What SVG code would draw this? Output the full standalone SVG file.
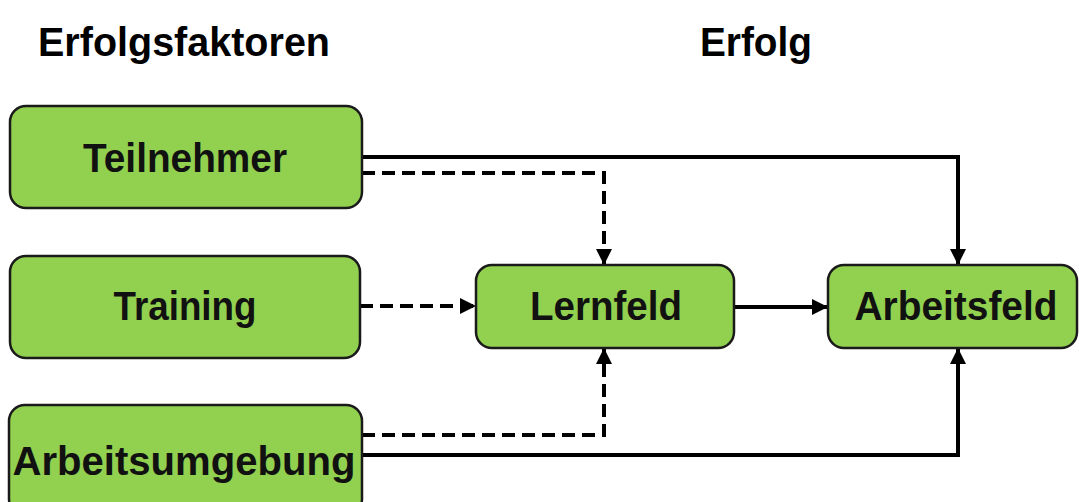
<svg xmlns="http://www.w3.org/2000/svg" width="1079" height="502" viewBox="0 0 1079 502">
  <style>
    .box { fill: #92D050; stroke: #1a1a1a; stroke-width: 2.5; }
    .lbl { font-family: "Liberation Sans", Arial, sans-serif; font-weight: bold; font-size: 40px; fill: #111; text-anchor: middle; }
    .title { font-family: "Liberation Sans", Arial, sans-serif; font-weight: bold; font-size: 40px; fill: #000; }
    .solid { fill: none; stroke: #000; stroke-width: 4; stroke-linejoin: miter; }
    .dash { fill: none; stroke: #000; stroke-width: 4; stroke-dasharray: 13 7; stroke-linejoin: miter; }
  </style>
  <defs>
    <marker id="arrow" viewBox="0 0 16 16" refX="16" refY="8" markerWidth="16" markerHeight="16" markerUnits="userSpaceOnUse" orient="auto">
      <path d="M0,0 L16,8 L0,16 z" fill="#000"/>
    </marker>
  </defs>
  <rect width="1079" height="502" fill="#fff"/>

  <g id="titles">
    <text class="title" x="38" y="56" textLength="292" lengthAdjust="spacingAndGlyphs">Erfolgsfaktoren</text>
    <text class="title" x="700" y="56" textLength="112" lengthAdjust="spacingAndGlyphs">Erfolg</text>
  </g>

  <g id="connectors">
    <path class="solid" d="M362,157 H958 V265" marker-end="url(#arrow)"/>
    <path class="dash" d="M362,173 H604 V265" marker-end="url(#arrow)"/>
    <path class="dash" d="M360,306 H476" marker-end="url(#arrow)"/>
    <path class="solid" d="M734,307 H828" marker-end="url(#arrow)"/>
    <path class="dash" d="M362,435 H604 V348" marker-end="url(#arrow)"/>
    <path class="solid" d="M362,455 H958 V348" marker-end="url(#arrow)"/>
  </g>

  <g id="teilnehmer">
    <rect class="box" x="10" y="106" width="352" height="102" rx="16"/>
    <text class="lbl" x="185" y="172" textLength="204" lengthAdjust="spacingAndGlyphs">Teilnehmer</text>
  </g>
  <g id="training">
    <rect class="box" x="10" y="256" width="350" height="102" rx="16"/>
    <text class="lbl" x="185" y="320" textLength="143" lengthAdjust="spacingAndGlyphs">Training</text>
  </g>
  <g id="arbeitsumgebung">
    <rect class="box" x="9" y="405" width="353" height="110" rx="16"/>
    <text class="lbl" x="184" y="475" font-size="46" textLength="343" lengthAdjust="spacingAndGlyphs">Arbeitsumgebung</text>
  </g>
  <g id="lernfeld">
    <rect class="box" x="476" y="265" width="258" height="83" rx="16"/>
    <text class="lbl" x="606" y="320" textLength="152" lengthAdjust="spacingAndGlyphs">Lernfeld</text>
  </g>
  <g id="arbeitsfeld">
    <rect class="box" x="828" y="265" width="249" height="83" rx="16"/>
    <text class="lbl" x="956" y="320" textLength="203" lengthAdjust="spacingAndGlyphs">Arbeitsfeld</text>
  </g>
</svg>
